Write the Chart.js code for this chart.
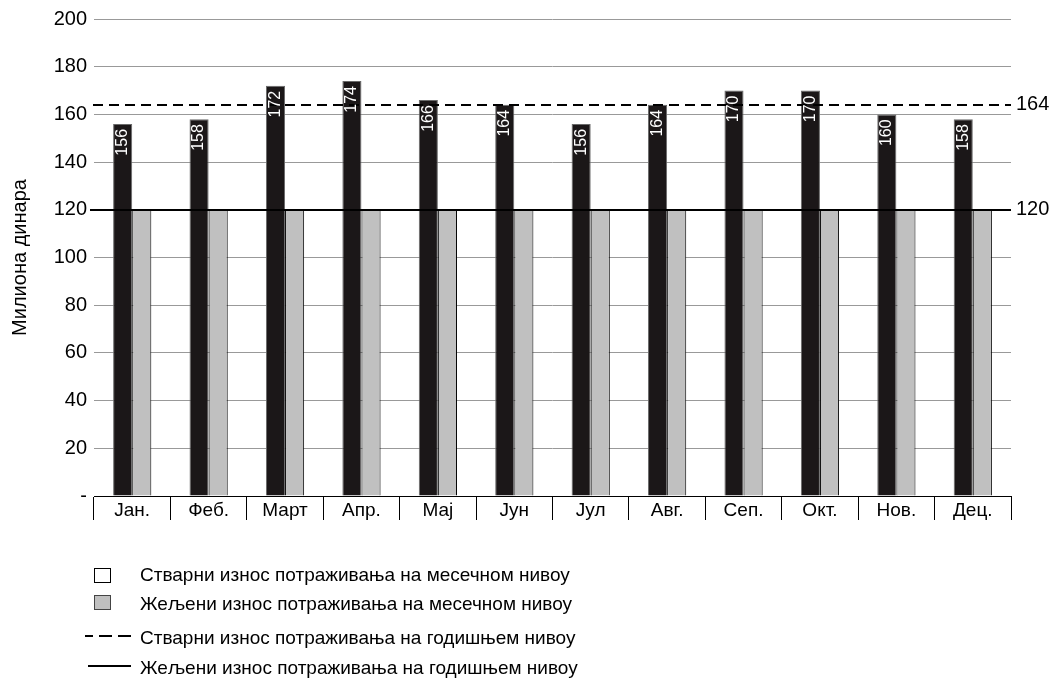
<!DOCTYPE html>
<html>
<head>
<meta charset="utf-8">
<script src="https://cdn.jsdelivr.net/npm/chart.js@4.4.1/dist/chart.umd.min.js"></script>
<style>
  html, body { margin: 0; padding: 0; background: #fff; }
  #wrap { position: relative; width: 1061px; height: 681px; overflow: hidden;
          font-family: 'Liberation Sans', Arial, sans-serif; color: #000; }
  #chart { position: absolute; left: 0; top: 0; }
  .lg-text { position: absolute; left: 140px; font-size: 19px; line-height: 19px; white-space: nowrap; }
  .lg-box { position: absolute; left: 94px; width: 17px; height: 15px; box-sizing: border-box; border: 1px solid #000; }
  svg.lg { position: absolute; left: 0; top: 0; }
</style>
</head>
<body>
<div id="wrap">
  <canvas id="chart" width="1061" height="681"></canvas>
  <div class="lg-box" style="top:568px;background:#fff;"></div>
  <div class="lg-box" style="top:595px;background:#c0c0c0;border-color:#444;"></div>
  <svg class="lg" width="200" height="681">
    <line x1="131" y1="636" x2="85" y2="636" stroke="#000" stroke-width="2" stroke-dasharray="13 6"/>
    <line x1="88" y1="666" x2="131" y2="666" stroke="#000" stroke-width="2"/>
  </svg>
  <div id="legend"></div>
</div>
<script>
// Months and monthly amounts (millions of dinars)
const months = ['Јан.', 'Феб.', 'Март', 'Апр.', 'Мај', 'Јун', 'Јул', 'Авг.', 'Сеп.', 'Окт.', 'Нов.', 'Дец.'];
const actualMonthly = [156, 158, 172, 174, 166, 164, 156, 164, 170, 170, 160, 158];
const targetMonthly = [120, 120, 120, 120, 120, 120, 120, 120, 120, 120, 120, 120];

// Annual levels shown as horizontal reference lines
const actualAnnual = 164;
const targetAnnual = 120;

// Axis range
const yMin = 0;
const yMax = 200;
const yStep = 20;

const axisTitle = 'Милиона динара';
const legendLabels = [
  'Стварни износ потраживања на месечном нивоу',
  'Жељени износ потраживања на месечном нивоу',
  'Стварни износ потраживања на годишњем нивоу',
  'Жељени износ потраживања на годишњем нивоу'
];
const legendTops = [565, 594, 628, 658];

// Legend text
const legendEl = document.getElementById('legend');
legendLabels.forEach((t, i) => {
  const d = document.createElement('div');
  d.className = 'lg-text';
  d.style.top = legendTops[i] + 'px';
  d.textContent = t;
  legendEl.appendChild(d);
});

Chart.defaults.font.family = "'Liberation Sans', Arial, sans-serif";
Chart.defaults.color = '#000';

// Annual reference lines, drawn over the bars
const annualLines = {
  id: 'annualLines',
  afterDatasetsDraw(chart) {
    const { ctx, chartArea, scales } = chart;
    const y = scales.y;
    ctx.save();
    ctx.strokeStyle = '#000';
    ctx.lineWidth = 2;
    // actual annual (dashed)
    const ya = Math.round(y.getPixelForValue(actualAnnual));
    ctx.setLineDash([10, 6]);
    ctx.beginPath();
    ctx.moveTo(chartArea.left - 1, ya);
    ctx.lineTo(chartArea.right, ya);
    ctx.stroke();
    // target annual (solid)
    const yt = Math.round(y.getPixelForValue(targetAnnual));
    ctx.setLineDash([]);
    ctx.beginPath();
    ctx.moveTo(chartArea.left - 4, yt);
    ctx.lineTo(chartArea.right, yt);
    ctx.stroke();
    ctx.restore();
  }
};

// Value labels written vertically inside the top of the dark bars
const barValues = {
  id: 'barValues',
  afterDraw(chart) {
    const { ctx } = chart;
    const meta = chart.getDatasetMeta(0);
    ctx.save();
    ctx.fillStyle = '#fff';
    ctx.font = "16px 'Liberation Sans', Arial, sans-serif";
    ctx.textAlign = 'right';
    ctx.textBaseline = 'middle';
    meta.data.forEach((bar, i) => {
      ctx.save();
      ctx.translate(bar.x, bar.y + 5);
      ctx.rotate(-Math.PI / 2);
      ctx.fillText(String(actualMonthly[i]), 0, 0);
      ctx.restore();
    });
    ctx.restore();
  }
};

new Chart(document.getElementById('chart'), {
  type: 'bar',
  data: {
    labels: months,
    datasets: [
      {
        label: legendLabels[0],
        data: actualMonthly,
        backgroundColor: '#1b1718',
        borderColor: '#6a6a6a',
        borderWidth: 1,
        categoryPercentage: 0.5,
        barPercentage: 1.0
      },
      {
        label: legendLabels[1],
        data: targetMonthly,
        backgroundColor: '#c0c0c0',
        borderColor: '#000',
        borderWidth: 1,
        categoryPercentage: 0.5,
        barPercentage: 1.0
      }
    ]
  },
  options: {
    responsive: false,
    animation: false,
    layout: { padding: { top: 19, left: 0, right: 0, bottom: 155 } },
    plugins: {
      legend: { display: false },
      tooltip: { enabled: false }
    },
    scales: {
      x: {
        offset: true,
        grid: {
          offset: true,
          drawOnChartArea: false,
          drawTicks: true,
          tickLength: 24,
          color: '#000',
          lineWidth: 1
        },
        border: { display: true, color: '#000', width: 1 },
        ticks: { font: { size: 19 }, padding: -21, maxRotation: 0, autoSkip: false },
        afterFit(s) { s.height = 30; }
      },
      y: {
        min: yMin,
        max: yMax,
        position: 'left',
        grid: { color: '#999', lineWidth: 1, drawTicks: false },
        border: { display: false },
        ticks: {
          stepSize: yStep,
          font: { size: 20 },
          padding: 7,
          callback: (v) => (v === 0 ? '-' : v)
        },
        title: {
          display: true,
          text: axisTitle,
          font: { size: 20 },
          padding: { top: 8, bottom: 0 }
        },
        afterFit(s) { s.width = 94; }
      },
      y2: {
        min: yMin,
        max: yMax,
        position: 'right',
        grid: { display: false, drawTicks: false },
        border: { display: false },
        ticks: { font: { size: 20 }, padding: 5 },
        afterBuildTicks(s) { s.ticks = [targetAnnual, actualAnnual].map(v => ({ value: v })); },
        afterFit(s) { s.width = 50; }
      }
    }
  },
  plugins: [annualLines, barValues]
});
</script>
</body>
</html>
